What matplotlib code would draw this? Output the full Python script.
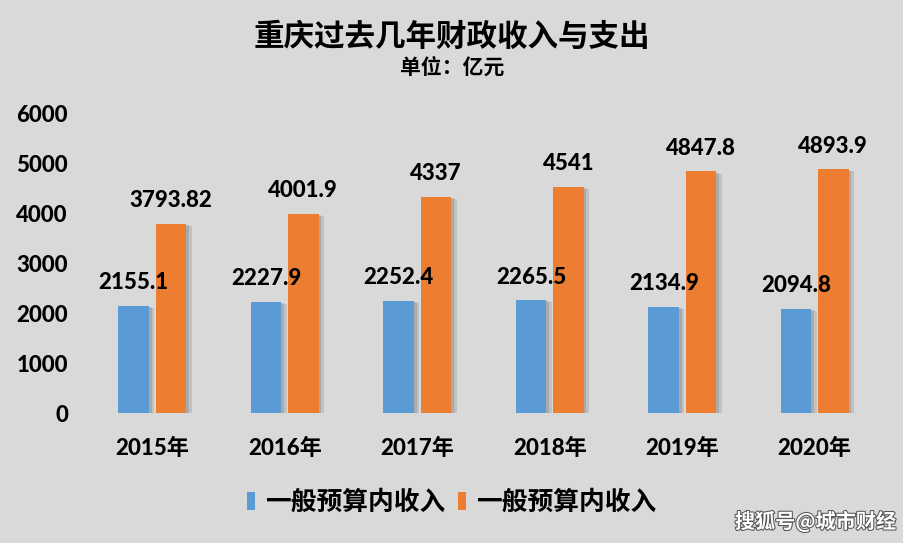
import matplotlib
matplotlib.use("Agg")
import matplotlib.pyplot as plt
import matplotlib.patheffects as pe
import numpy as np

years = ["2015年", "2016年", "2017年", "2018年", "2019年", "2020年"]
series_a = [2155.1, 2227.9, 2252.4, 2265.5, 2134.9, 2094.8]
series_b = [3793.82, 4001.9, 4337, 4541, 4847.8, 4893.9]
labels_a = ["2155.1", "2227.9", "2252.4", "2265.5", "2134.9", "2094.8"]
labels_b = ["3793.82", "4001.9", "4337", "4541", "4847.8", "4893.9"]
legend_names = ["一般预算内收入", "一般预算内收入"]
yticks = [0, 1000, 2000, 3000, 4000, 5000, 6000]

BG = "#d9d9d9"
BLUE = "#5b9bd5"
ORANGE = "#ed7d31"
FONT = ["Lato", "Noto Sans CJK SC", "DejaVu Sans"]
CJK = ["Noto Sans CJK SC", "DejaVu Sans"]
plt.rcParams["font.family"] = FONT
NUMW = 900

fig = plt.figure(figsize=(9.04, 5.43), dpi=100, facecolor=BG)
ax = fig.add_axes([86/904, 1-413/543, (881-86)/904, (413-114)/543])
ax.set_facecolor(BG)

x = np.arange(len(years))
w = 0.23
shadow = [pe.SimplePatchShadow(offset=(4, -1.5), shadow_rgbFace="#8a8a8a", alpha=0.3),
          pe.SimplePatchShadow(offset=(2, -1), shadow_rgbFace="#777777", alpha=0.3),
          pe.Normal()]
ba = ax.bar(x - 0.14, series_a, w, color=BLUE, zorder=3, path_effects=shadow, label=legend_names[0])
bb = ax.bar(x + 0.14, series_b, w, color=ORANGE, zorder=3, path_effects=shadow, label=legend_names[1])

for xi, v, t in zip(x - 0.14, series_a, labels_a):
    ax.annotate(t, (xi, v), xytext=(0, 9), textcoords="offset points", ha="center", va="bottom",
                fontsize=16, fontweight=NUMW, family=FONT, color="black")
for xi, v, t in zip(x + 0.14, series_b, labels_b):
    ax.annotate(t, (xi, v), xytext=(0, 9), textcoords="offset points", ha="center", va="bottom",
                fontsize=16, fontweight=NUMW, family=FONT, color="black")

ax.set_xlim(-0.5, len(years) - 0.5)
ax.set_ylim(0, 6000)
ax.set_yticks(yticks)
ax.set_yticklabels([str(v) for v in yticks], fontsize=16, fontweight=NUMW)
ax.set_xticks(x)
ax.set_xticklabels(years, fontsize=16, fontweight=NUMW, family=FONT)
ax.tick_params(axis="both", length=0)
ax.tick_params(axis="y", pad=13)
ax.tick_params(axis="x", pad=18)
for s in ax.spines.values():
    s.set_visible(False)

fig.text(0.5, 1-37/543, "重庆过去几年财政收入与支出", ha="center", va="center",
         fontsize=22, fontweight="heavy", family=CJK)
fig.text(0.5, 1-67/543, "单位：亿元", ha="center", va="center",
         fontsize=15, fontweight="heavy", family=CJK)

leg = fig.legend(handles=[ba, bb], labels=legend_names, loc="center", bbox_to_anchor=(0.5, 1-502/543),
                 ncol=2, frameon=False, prop={"family": CJK, "weight": "heavy", "size": 18.5},
                 handlelength=0.3, handleheight=0.7, handletextpad=0.4, columnspacing=0.5)
for h in leg.legend_handles:
    h.set_path_effects([])

fig.text(1-8/904, 1-522/543, "搜狐号@城市财经", ha="right", va="center", fontsize=14.5,
         fontweight="bold", family=CJK, color="white",
         path_effects=[pe.withStroke(linewidth=1.5, foreground="#555555")])

fig.savefig("out.png", dpi=100, facecolor=BG)
